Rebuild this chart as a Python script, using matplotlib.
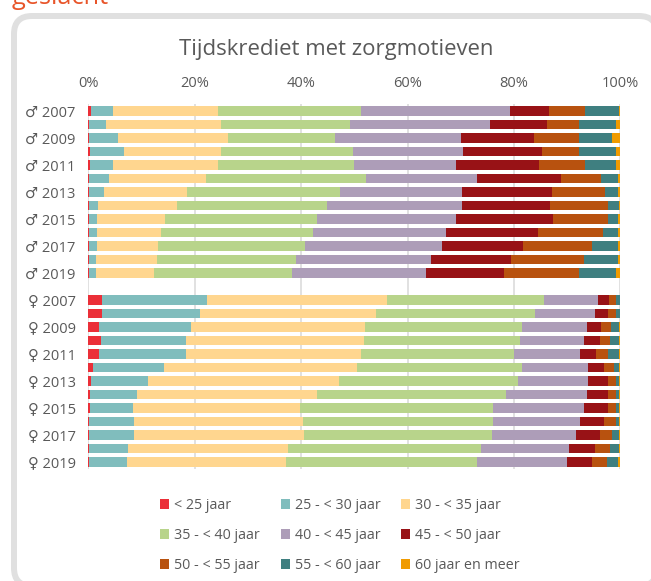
import matplotlib
matplotlib.use("Agg")
import matplotlib.pyplot as plt
import numpy as np
from matplotlib.patches import FancyBboxPatch
from matplotlib.transforms import IdentityTransform

FONT = ['Open Sans', 'DejaVu Sans']
plt.rcParams['font.family'] = FONT

title = "Tijdskrediet met zorgmotieven"
clipped_heading = "geslacht"
years = [str(y) for y in range(2007, 2020)]
men_symbol = "\u2642"
women_symbol = "\u2640"

age_labels = ["< 25 jaar", "25 - < 30 jaar", "30 - < 35 jaar",
              "35 - < 40 jaar", "40 - < 45 jaar", "45 - < 50 jaar",
              "50 - < 55 jaar", "55 - < 60 jaar", "60 jaar en meer"]
colors = ["#EB2F38", "#80BDBD", "#FFD68F", "#B8D48B", "#AD9DB8",
          "#981216", "#B8520F", "#3F7F80", "#F09B00"]

# Percentage share per age class, one row per year 2007..2019
men = [
    [.5, 4.2, 19.7, 26.85, 28.05, 7.3, 6.8, 6.4, .2],
    [.1, 3.2, 21.6, 24.3, 26.3, 10.8, 5.9, 6.9, .9],
    [.1, 5.5, 20.6, 20.2, 23.6, 13.8, 8.4, 6.3, 1.5],
    [.3, 6.4, 18.2, 24.8, 20.8, 14.8, 6.9, 6.9, .9],
    [.3, 4.4, 19.7, 25.5, 19.3, 15.6, 8.6, 5.7, .9],
    [.05, 3.85, 18.2, 30.1, 20.8, 15.9, 7.5, 3.1, .5],
    [.05, 2.85, 15.7, 28.8, 22.8, 17, 10, 2.3, .5],
    [.05, 1.85, 14.7, 28.3, 25.3, 16.65, 10.9, 2, .25],
    [.05, 1.55, 12.75, 28.55, 26.3, 18.2, 10.35, 1.75, .5],
    [.05, 1.55, 12, 28.6, 25, 17.4, 12.2, 2.7, .5],
    [.05, 1.55, 11.5, 27.6, 25.7, 15.4, 12.9, 4.8, .5],
    [.05, 1.35, 11.45, 26.25, 25.3, 15.1, 13.7, 6.3, .5],
    [.05, 1.35, 10.95, 26, 25.05, 14.8, 14, 7.05, .75],
]
women = [
    [2.6, 19.7, 33.8, 29.55, 10.1, 2.15, 1.35, .65, .1],
    [2.6, 18.45, 32.95, 29.9, 11.35, 2.5, 1.35, .8, .1],
    [2.1, 17.2, 32.7, 29.6, 12.1, 2.7, 1.85, 1.5, .25],
    [2.4, 15.9, 33.45, 29.35, 12.1, 3.05, 1.75, 1.75, .25],
    [2.1, 16.2, 32.95, 28.85, 12.3, 3.1, 2.25, 2, .25],
    [.9, 13.3, 36.4, 31, 12.4, 3, 1.75, 1, .25],
    [.55, 10.65, 36, 33.6, 13.2, 3.75, 1.5, .5, .25],
    [.3, 8.85, 33.75, 35.7, 15.1, 4.05, 1.5, .5, .25],
    [.3, 8.1, 31.45, 36.25, 17.1, 4.55, 1.5, .5, .25],
    [.05, 8.6, 31.7, 35.75, 16.3, 4.6, 2.1, .65, .25],
    [.05, 8.6, 31.95, 35.2, 15.9, 4.55, 2.25, 1.25, .25],
    [.05, 7.4, 30.05, 36.25, 16.65, 4.85, 2.75, 1.75, .25],
    [.05, 7.15, 29.95, 35.85, 16.9, 4.85, 2.75, 2, .5],
]

W, H = 651, 581
TEXT = "#595959"
fig = plt.figure(figsize=(W / 100, H / 100), dpi=100, facecolor="white")

# Rounded frame, running off the right and bottom of the picture
fig.add_artist(FancyBboxPatch((14, H - 586), 643, 570,
                              boxstyle="round,pad=0,rounding_size=18",
                              fc="white", ec="#E0E0E0", lw=4.3, zorder=-5,
                              transform=IdentityTransform()))
fig.text(12 / W, 1 - 4 / H, clipped_heading, color="#E8552A", fontsize=18.3,
         ha="left", va="baseline")

ax = fig.add_axes([88.3 / W, 1 - 468.75 / H, 532 / W, 364.5 / H], zorder=2)
ax.set_facecolor("none")

rows = np.vstack([men, np.zeros((1, 9)), women])
positions = np.arange(len(rows))
left = np.zeros(len(rows))
handles = []
for i, (lab, col) in enumerate(zip(age_labels, colors)):
    vals = rows[:, i]
    b = ax.barh(positions, vals, left=left, height=0.69, color=col,
                label=lab, zorder=3)
    handles.append(b)
    left = left + vals

tick_pos, tick_lab = [], []
for k, y in enumerate(years):
    if k % 2 == 0:
        tick_pos += [k, k + 14]
        tick_lab += [f"{men_symbol} {y}", f"{women_symbol} {y}"]
ax.set_yticks(tick_pos, tick_lab)
ax.set_xlim(0, 100)
ax.set_ylim(len(rows) - 0.5, -0.5)
ax.set_xticks(range(0, 101, 20), [f"{v}%" for v in range(0, 101, 20)])
ax.xaxis.tick_top()
ax.tick_params(axis="both", length=0, labelcolor=TEXT, labelsize=10.5)
ax.tick_params(axis="x", pad=9.5)
ax.tick_params(axis="y", pad=9)
ax.grid(axis="x", color="#D9D9D9", lw=1.1, zorder=0)
ax.set_axisbelow(True)
for s in ax.spines.values():
    s.set_visible(False)

fig.text(336 / W, 1 - 49 / H, title, color=TEXT, fontsize=15.9,
         ha="center", va="center")

# Legend reads row by row; matplotlib fills columns, so reorder
order = [0, 3, 6, 1, 4, 7, 2, 5, 8]
fig.legend([handles[i] for i in order], [age_labels[i] for i in order],
           ncol=3, loc="center left", bbox_to_anchor=(160 / W, 1 - 535.5 / H),
           frameon=False, fontsize=10.3, labelcolor=TEXT,
           handlelength=0.65, handleheight=0.65, handletextpad=0.33,
           columnspacing=1.45, labelspacing=1.06, borderpad=0, borderaxespad=0)

fig.savefig("out.png", dpi=100)
